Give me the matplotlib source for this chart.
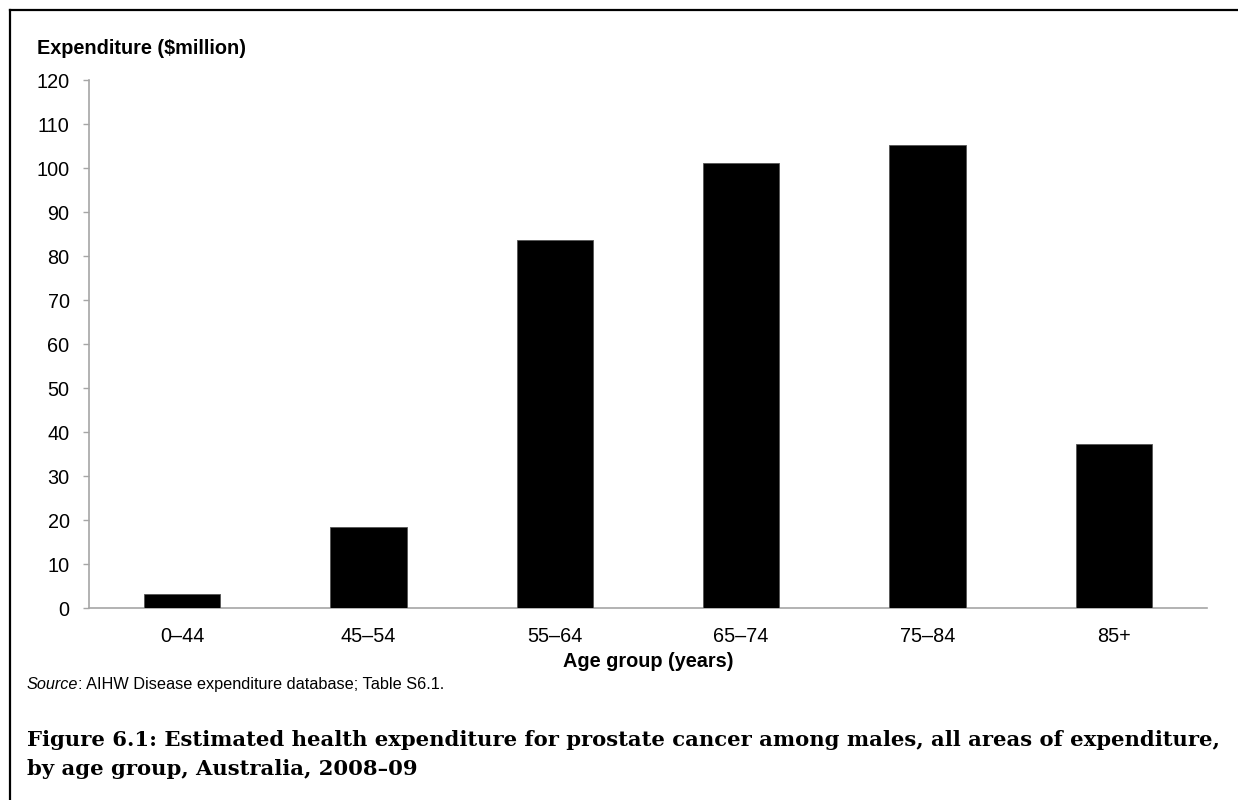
import matplotlib
matplotlib.use("Agg")
import matplotlib.pyplot as plt
from matplotlib.lines import Line2D

categories = ["0–44", "45–54", "55–64", "65–74", "75–84", "85+"]
values = [3.1, 18.5, 83.6, 101.1, 105.2, 37.3]
y_ticks = list(range(0, 130, 10))

W, H = 1238, 800
fig = plt.figure(figsize=(W / 100, H / 100), dpi=100)
fig.patch.set_facecolor("white")

sans = ["Liberation Sans", "DejaVu Sans"]
serif = ["DejaVu Serif"]
FS = 14.3

ax = fig.add_axes([89 / W, 1 - 608 / H, (1207 - 89) / W, (608 - 80) / H])
x = list(range(len(categories)))
ax.bar(x, values, width=0.41, color="black", edgecolor="#555555", linewidth=0.6, zorder=3)
ax.set_xlim(-0.5, len(categories) - 0.5)
ax.set_ylim(0, 120)
ax.set_yticks(y_ticks)
ax.set_yticklabels([str(t) for t in y_ticks], fontfamily=sans, fontsize=FS)
ax.set_xticks(x)
ax.set_xticklabels(categories, fontfamily=sans, fontsize=FS)
for s in ["top", "right"]:
    ax.spines[s].set_visible(False)
for s in ["left", "bottom"]:
    ax.spines[s].set_color("#a6a6a6")
    ax.spines[s].set_linewidth(1.2)
ax.tick_params(axis="y", length=4, width=1, color="#a6a6a6", pad=10)
ax.tick_params(axis="x", length=0, pad=14)
ax.set_xlabel("Age group (years)", fontfamily=sans, fontsize=FS, fontweight="bold", labelpad=4)

fig.text(37 / W, 1 - 48 / H, r"Expenditure (\$million)", fontfamily=sans, fontsize=FS,
         fontweight="bold", ha="left", va="center")

# Source line
ys = 1 - 689 / H
t1 = fig.text(27 / W, ys, "Source", fontfamily=sans, fontsize=11.7,
              fontstyle="italic", ha="left", va="baseline")
fig.canvas.draw()
r = fig.canvas.get_renderer()
bb = t1.get_window_extent(renderer=r)
fig.text(bb.x1 / W, ys, ": AIHW Disease expenditure database; Table S6.1.",
         fontfamily=sans, fontsize=11.7, ha="left", va="baseline")

fig.text(27 / W, 1 - 740 / H,
         "Figure 6.1: Estimated health expenditure for prostate cancer among males, all areas of expenditure,",
         fontfamily=serif, fontsize=15.2, fontweight="bold", ha="left", va="center")
fig.text(27 / W, 1 - 769 / H, "by age group, Australia, 2008–09",
         fontfamily=serif, fontsize=15.2, fontweight="bold", ha="left", va="center")

# frame lines (top and left)
fig.add_artist(Line2D([10 / W, 1.0], [1 - 10 / H, 1 - 10 / H], transform=fig.transFigure,
                      color="black", linewidth=1.6))
fig.add_artist(Line2D([10 / W, 10 / W], [1 - 10 / H, 0.0], transform=fig.transFigure,
                      color="black", linewidth=1.6))

fig.savefig("out.png", dpi=100, facecolor="white")
